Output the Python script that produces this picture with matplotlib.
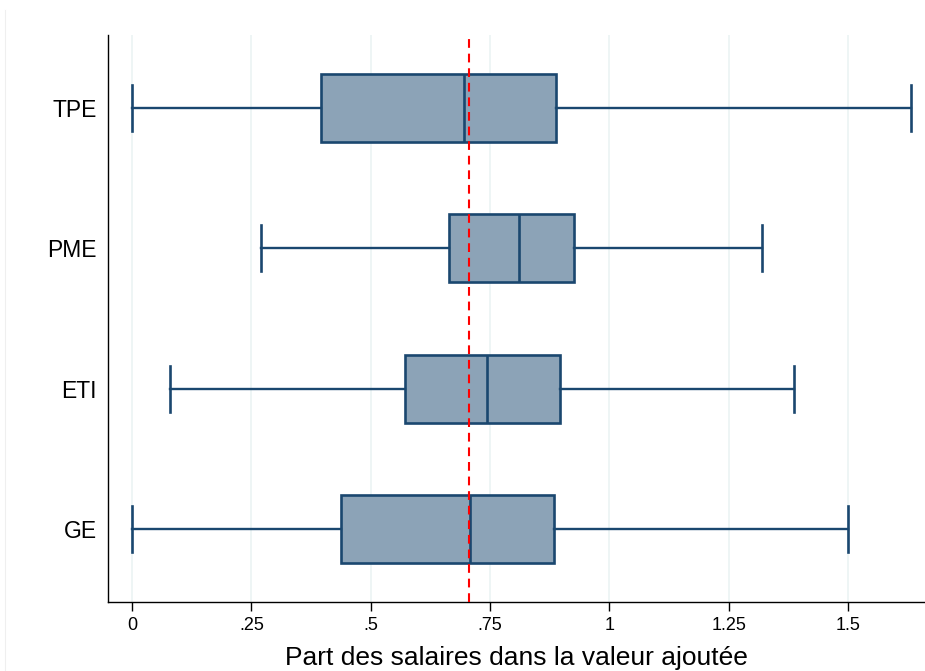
import numpy as np
import matplotlib
matplotlib.use('Agg')
import matplotlib.pyplot as plt
from matplotlib.lines import Line2D

# box statistics
categories = ['TPE', 'PME', 'ETI', 'GE']
whis_lo = [0.0, 0.270, 0.080, 0.0]
q1 = [0.395, 0.665, 0.572, 0.437]
median = [0.696, 0.810, 0.744, 0.708]
q3 = [0.888, 0.925, 0.896, 0.885]
whis_hi = [1.632, 1.320, 1.387, 1.501]
ref_line = 0.706

xticks = [0, 0.25, 0.5, 0.75, 1, 1.25, 1.5]
xtick_labels = ['0', '.25', '.5', '.75', '1', '1.25', '1.5']

navy = '#1a476f'
fill = '#8ca3b7'
grid_col = '#eaf2f3'

plt.rcParams['font.family'] = ['Liberation Sans', 'DejaVu Sans']

fig = plt.figure(figsize=(9.25, 6.71), dpi=100)
ax = fig.add_axes([108 / 925, 69 / 671, 1 - 108 / 925, 567 / 671])

stats = []
for i in range(len(categories)):
    stats.append({'label': categories[i], 'whislo': whis_lo[i], 'q1': q1[i],
                  'med': median[i], 'q3': q3[i], 'whishi': whis_hi[i], 'fliers': []})

pos = np.arange(len(categories))
ax.bxp(stats, positions=pos, widths=0.485, capwidths=0.33, orientation='horizontal',
       patch_artist=True, showfliers=False,
       boxprops=dict(facecolor=fill, edgecolor=navy, linewidth=1.9),
       medianprops=dict(color=navy, linewidth=1.9),
       whiskerprops=dict(color=navy, linewidth=1.7),
       capprops=dict(color=navy, linewidth=1.9), zorder=3)

ax.axvline(ref_line, color='red', linewidth=1.5, linestyle=(0, (4.2, 2.8)), zorder=4)

ax.set_xlim(-0.0503, 1.6614)
ax.set_ylim(len(categories) - 0.48, -0.52)
ax.set_xticks(xticks)
ax.set_xticklabels(xtick_labels, fontsize=13)
ax.set_yticks(pos)
ax.set_yticklabels(categories, fontsize=16.5)
ax.tick_params(axis='x', length=6.5, width=1, pad=4)
ax.tick_params(axis='y', length=0, pad=8)
ax.grid(axis='x', color=grid_col, linewidth=1.1, zorder=0)
ax.set_axisbelow(True)
ax.spines['top'].set_visible(False)
ax.spines['right'].set_visible(False)
ax.spines['left'].set_linewidth(1)
ax.spines['bottom'].set_linewidth(1)
ax.set_xlabel('Part des salaires dans la valeur ajoutée', fontsize=19, labelpad=9)

# faint outer border line on the left
fig.add_artist(Line2D([5 / 925, 5 / 925], [0, 1 - 10 / 671], transform=fig.transFigure,
                      color='#efefef', linewidth=0.8))

fig.savefig('out.png', dpi=100)
